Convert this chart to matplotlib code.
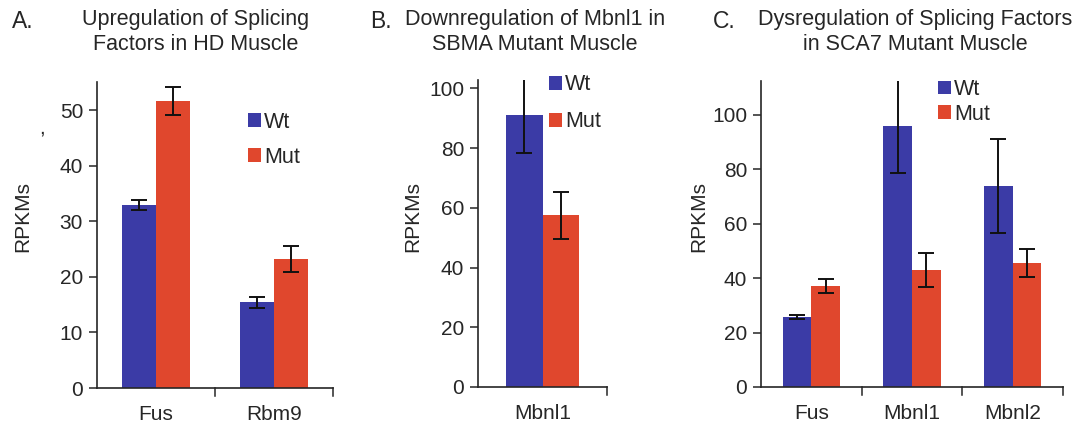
import numpy as np
import matplotlib.pyplot as plt

plt.rcParams['font.family'] = ['Liberation Sans', 'DejaVu Sans']

BLUE = '#3b3ba6'
RED = '#e0472d'
INK = '#262626'

# Panel A: HD muscle
a_genes = ['Fus', 'Rbm9']
a_wt = [32.9, 15.4]
a_wt_err = [0.9, 1.0]
a_mut = [51.7, 23.2]
a_mut_err = [2.5, 2.4]

# Panel B: SBMA muscle
b_genes = ['Mbnl1']
b_wt = [91.1]
b_wt_err = [12.6]
b_mut = [57.5]
b_mut_err = [7.8]

# Panel C: SCA7 muscle
c_genes = ['Fus', 'Mbnl1', 'Mbnl2']
c_wt = [25.8, 96.0, 74.0]
c_wt_err = [0.8, 17.3, 17.2]
c_mut = [37.2, 42.9, 45.6]
c_mut_err = [2.6, 6.2, 5.1]

W, H = 1079, 429
fig = plt.figure(figsize=(W / 100, H / 100), dpi=100)


def px_axes(left, right, top, bottom):
    return fig.add_axes([left / W, (H - bottom) / H, (right - left) / W, (bottom - top) / H])


def panel(ax, genes, wt, wt_err, mut, mut_err, ymax, yticks, leg_xy, leg_space):
    x = np.arange(len(genes))
    bw = 0.285
    ax.bar(x - bw / 2, wt, bw, color=BLUE, label='Wt', zorder=2)
    ax.bar(x + bw / 2, mut, bw, color=RED, label='Mut', zorder=2)
    ekw = dict(fmt='none', ecolor='#111111', elinewidth=1.4, capsize=5.5, capthick=1.4, zorder=3)
    ax.errorbar(x - bw / 2, wt, yerr=wt_err, **ekw)
    ax.errorbar(x + bw / 2, mut, yerr=mut_err, **ekw)
    ax.set_xlim(-0.5, len(genes) - 0.5)
    ax.set_ylim(0, ymax)
    ax.set_yticks(yticks)
    ax.set_xticks(x)
    ax.set_xticklabels(genes)
    ax.tick_params(axis='x', length=0, pad=12, labelsize=15, colors=INK)
    ax.tick_params(axis='y', length=6, width=1.1, labelsize=15, colors=INK, pad=4)
    # category boundary ticks along the x axis
    for b in np.arange(0.5, len(genes), 1.0):
        ax.plot([b, b], [0, -0.025], transform=ax.get_xaxis_transform(), color=INK,
                lw=1.1, clip_on=False)
    for side in ['top', 'right']:
        ax.spines[side].set_visible(False)
    for side in ['left', 'bottom']:
        ax.spines[side].set_linewidth(1.2)
        ax.spines[side].set_color(INK)
    ax.set_ylabel('RPKMs', fontsize=15, color=INK)
    ax.legend(loc='upper left', bbox_to_anchor=leg_xy, frameon=False, fontsize=15.5,
              handlelength=0.6, handleheight=0.6, handletextpad=0.15, borderpad=0,
              borderaxespad=0, labelspacing=leg_space, labelcolor=INK)


ax_a = px_axes(97, 333, 82, 388)
panel(ax_a, a_genes, a_wt, a_wt_err, a_mut, a_mut_err, 55.1, [0, 10, 20, 30, 40, 50],
      (0.64, 0.903), 0.65)
ax_a.yaxis.set_label_coords(-0.275, 0.562)

ax_b = px_axes(478, 607, 80, 387)
panel(ax_b, b_genes, b_wt, b_wt_err, b_mut, b_mut_err, 102.8, [0, 20, 40, 60, 80, 100],
      (0.55, 1.018), 0.74)
ax_b.yaxis.set_label_coords(-0.434, 0.557)

ax_c = px_axes(761, 1063, 81, 387)
panel(ax_c, c_genes, c_wt, c_wt_err, c_mut, c_mut_err, 112.5, [0, 20, 40, 60, 80, 100],
      (0.586, 1.0065), 0.18)
ax_c.yaxis.set_label_coords(-0.175, 0.557)

# panel letters and titles
tkw = dict(fontsize=15.5, color=INK, ha='center', va='center')
lkw = dict(fontsize=16.5, color=INK, ha='center', va='center')
fig.text(23 / W, 1 - 22 / H, 'A.', **lkw)
fig.text(196 / W, 1 - 20 / H, 'Upregulation of Splicing', **tkw)
fig.text(196 / W, 1 - 45 / H, 'Factors in HD Muscle', **tkw)
fig.text(381 / W, 1 - 22 / H, 'B.', **lkw)
fig.text(535 / W, 1 - 20 / H, 'Downregulation of Mbnl1 in', **tkw)
fig.text(535 / W, 1 - 45 / H, 'SBMA Mutant Muscle', **tkw)
fig.text(724 / W, 1 - 22 / H, 'C.', **lkw)
fig.text(915 / W, 1 - 20 / H, 'Dysregulation of Splicing Factors', **tkw)
fig.text(915 / W, 1 - 45 / H, 'in SCA7 Mutant Muscle', **tkw)
fig.text(42 / W, 1 - 128 / H, ',', fontsize=15, color=INK, ha='center', va='center')

fig.savefig('out.png', dpi=100)
